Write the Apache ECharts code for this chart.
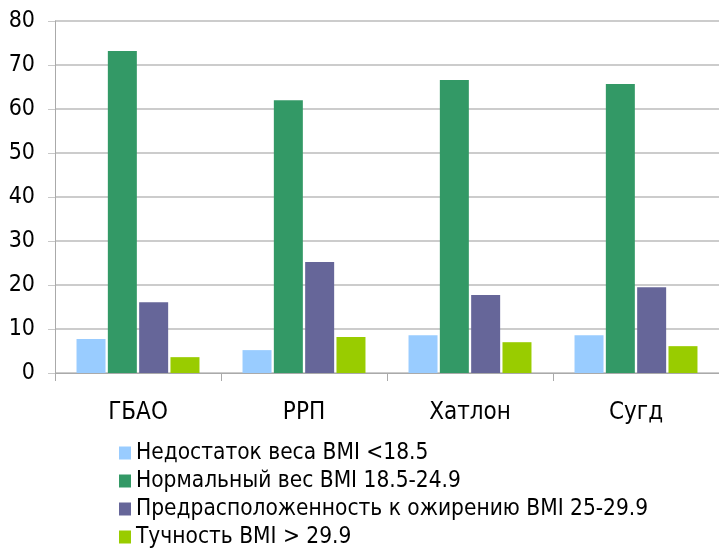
<!DOCTYPE html>
<html>
<head>
<meta charset="utf-8">
<script src="https://cdn.jsdelivr.net/npm/echarts@6/dist/echarts.min.js"></script>
<style>
  html, body { margin: 0; padding: 0; background: #fff; }
  #chart { width: 719px; height: 550px; }
</style>
</head>
<body>
<div id="chart"></div>
<script>
  // регионы
  var categories = ['ГБАО', 'РРП', 'Хатлон', 'Сугд']
  var seriesNames = [
    'Недостаток веса BMI <18.5',
    'Нормальный вес BMI 18.5-24.9',
    'Предрасположенность к ожирению BMI 25-29.9',
    'Тучность BMI > 29.9'
  ]
  var underweight = [7.7, 5.2, 8.6, 8.6]
  var normal = [73.2, 62.0, 66.6, 65.7]
  var overweight = [16.1, 25.2, 17.7, 19.5]
  var obese = [3.6, 8.2, 7.0, 6.1]
  var colorList = ['#99CCFF', '#339966', '#666699', '#99CC00']

  var font = 'DejaVu Sans Condensed'
  var values = [underweight, normal, overweight, obese]

  var chart = echarts.init(document.getElementById('chart'))
  var option = {
    animation: false,
    color: colorList,
    grid: {
      left: 55,
      top: 21,
      bottom: 177,
      width: 668
    },
    legend: {
      orient: 'vertical',
      left: 119,
      top: 441,
      height: 109,
      padding: 0,
      itemWidth: 12,
      itemHeight: 13,
      itemGap: 4,
      icon: 'rect',
      textStyle: { fontFamily: font, fontSize: 22.5, lineHeight: 24, color: '#000' },
      data: seriesNames
    },
    xAxis: {
      type: 'category',
      data: categories,
      axisLine: { lineStyle: { color: '#aaaaaa', width: 1 } },
      axisTick: { show: true, length: 8, lineStyle: { color: '#aaaaaa' } },
      axisLabel: { fontFamily: font, fontSize: 24, color: '#000', margin: 28 },
      splitLine: { show: false }
    },
    yAxis: {
      type: 'value',
      min: 0,
      max: 80,
      interval: 10,
      axisLine: { show: true, lineStyle: { color: '#aaaaaa' } },
      axisTick: { show: true, length: 7, lineStyle: { color: '#c8c8c8' } },
      axisLabel: { fontFamily: font, fontSize: 23, color: '#000', margin: 20 },
      splitLine: { lineStyle: { color: '#cccccc', width: 2 } }
    },
    series: seriesNames.map(function (name, i) {
      return {
        name: name,
        type: 'bar',
        data: values[i],
        barWidth: 29,
        barGap: '8%',
        itemStyle: { color: colorList[i] }
      }
    })
  }
  chart.setOption(option)
</script>
</body>
</html>
